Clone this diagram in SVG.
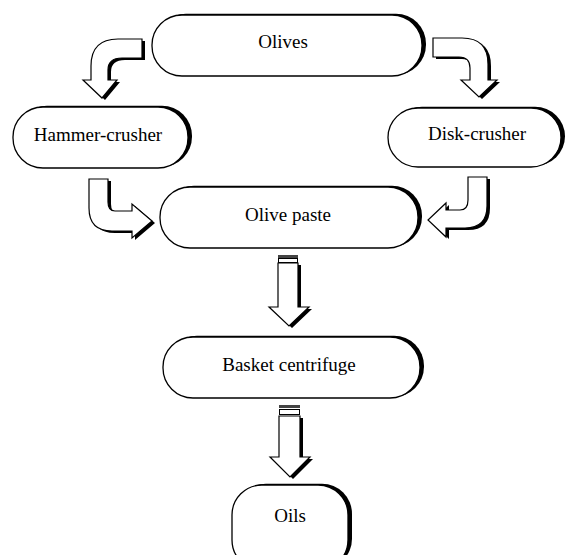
<svg xmlns="http://www.w3.org/2000/svg" width="565" height="555" viewBox="0 0 565 555">
<defs>
<style>
.box{fill:#fff;stroke:#000;stroke-width:1.3}
.sh{fill:#000}
.arr{fill:#fff;stroke:#000;stroke-width:1.2;stroke-linejoin:miter}
.lbl{font-family:"Liberation Serif","Times New Roman",serif;font-size:19px;fill:#000;text-anchor:middle}
</style>
</defs>
<rect width="565" height="555" fill="#fff"/>
<g id="connectors">
  <g id="arrow-olives-hammer">
    <path class="sh" transform="translate(3,2)" d="M142,39 L118,39 Q91,39 91,66 L91,80 L83,80 L102,98 L117,80 L108,80 L108,70 Q108,58 122,58 L142,58 Z"/>
    <path class="arr" d="M142,39 L118,39 Q91,39 91,66 L91,80 L83,80 L102,98 L117,80 L108,80 L108,70 Q108,58 122,58 L142,58 Z"/>
  </g>
  <g id="arrow-olives-disk">
    <path class="sh" transform="translate(3,2)" d="M433,38 L462,38 Q488,38 488,64 L488,80 L497,80 L479,97 L461,80 L470,80 L470,68 Q470,57 459,57 L433,57 Z"/>
    <path class="arr" d="M433,38 L462,38 Q488,38 488,64 L488,80 L497,80 L479,97 L461,80 L470,80 L470,68 Q470,57 459,57 L433,57 Z"/>
  </g>
  <g id="arrow-hammer-paste">
    <path class="sh" transform="translate(3,2)" d="M89,179 L89,208 Q89,231 112,231 L132,231 L132,238 L152,221 L132,204 L132,211 L115,211 Q108,211 108,202 L108,179 Z"/>
    <path class="arr" d="M89,179 L89,208 Q89,231 112,231 L132,231 L132,238 L152,221 L132,204 L132,211 L115,211 Q108,211 108,202 L108,179 Z"/>
  </g>
  <g id="arrow-disk-paste">
    <path class="sh" transform="translate(3,2)" d="M487,177 L487,206 Q487,228 465,228 L446,228 L446,237 L428,220 L446,203 L446,210 L460,210 Q468,210 468,200 L468,177 Z"/>
    <path class="arr" d="M487,177 L487,206 Q487,228 465,228 L446,228 L446,237 L428,220 L446,203 L446,210 L460,210 Q468,210 468,200 L468,177 Z"/>
  </g>
  <g id="arrow-paste-basket">
    <path class="sh" transform="translate(3,2)" d="M278,263 L278,307 L269,307 L289,326 L309,307 L298,307 L298,263 Z"/>
    <path class="arr" d="M278,263 L278,307 L269,307 L289,326 L309,307 L298,307 L298,263 Z"/>
    <rect x="278" y="255" width="20" height="3" fill="#444"/>
    <rect x="278.5" y="258.5" width="19" height="4" fill="#fff" stroke="#000" stroke-width="1"/>
  </g>
  <g id="arrow-basket-oils">
    <path class="sh" transform="translate(3,2)" d="M279,416 L279,457 L270,457 L290,477 L310,457 L300,457 L300,416 Z"/>
    <path class="arr" d="M279,416 L279,457 L270,457 L290,477 L310,457 L300,457 L300,416 Z"/>
    <rect x="279" y="405" width="21" height="3" fill="#444"/>
    <rect x="279.5" y="409.5" width="20" height="5" fill="#fff" stroke="#000" stroke-width="1"/>
  </g>
</g>
<g id="node-olives">
  <rect class="sh" x="156" y="13.8" width="270" height="61" rx="30" ry="30"/>
  <rect class="box" x="152" y="15" width="270" height="61" rx="30" ry="30"/>
  <text class="lbl" x="283" y="48">Olives</text>
</g>
<g id="node-hammer-crusher">
  <rect class="sh" x="17" y="105.8" width="175" height="61" rx="30" ry="30"/>
  <rect class="box" x="13" y="107" width="175" height="61" rx="30" ry="30"/>
  <text class="lbl" x="98" y="141">Hammer-crusher</text>
</g>
<g id="node-disk-crusher">
  <rect class="sh" x="392" y="106.8" width="173" height="59" rx="30" ry="30"/>
  <rect class="box" x="388" y="108" width="173" height="59" rx="30" ry="30"/>
  <text class="lbl" x="477" y="140">Disk-crusher</text>
</g>
<g id="node-olive-paste">
  <rect class="sh" x="164" y="185.8" width="258" height="61" rx="30" ry="30"/>
  <rect class="box" x="160" y="187" width="258" height="61" rx="30" ry="30"/>
  <text class="lbl" x="288" y="221">Olive paste</text>
</g>
<g id="node-basket-centrifuge">
  <rect class="sh" x="167" y="335.8" width="257" height="61" rx="30" ry="30"/>
  <rect class="box" x="163" y="337" width="257" height="61" rx="30" ry="30"/>
  <text class="lbl" x="289" y="371">Basket centrifuge</text>
</g>
<g id="node-oils">
  <rect class="sh" x="236" y="483.8" width="116" height="85" rx="30" ry="30"/>
  <rect class="box" x="232" y="485" width="116" height="85" rx="30" ry="30"/>
  <text class="lbl" x="290" y="522">Oils</text>
</g>
</svg>
